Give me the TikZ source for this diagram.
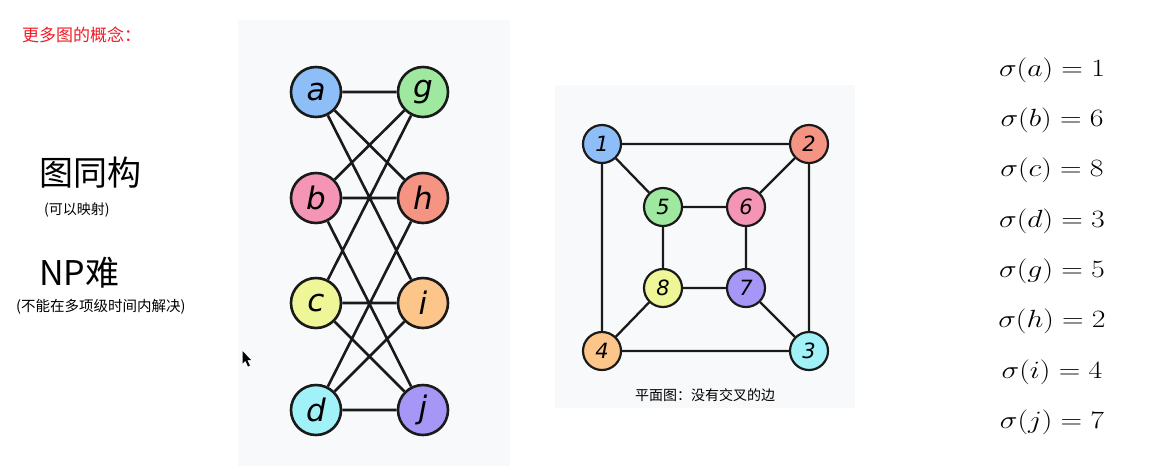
\documentclass[tikz,border=0pt]{standalone}
\usepackage{fontspec}
\newfontfamily\cjk{Noto Sans CJK SC}
\newfontfamily\lblfont{DejaVu Sans}
\usepackage{graphicx}
\definecolor{panel}{HTML}{F8F9FB}
\definecolor{edgec}{HTML}{1A1A1A}
\definecolor{cBlue}{HTML}{8EBEF8}
\definecolor{cGreen}{HTML}{9EE8A0}
\definecolor{cPink}{HTML}{F595B5}
\definecolor{cSalmon}{HTML}{F69484}
\definecolor{cYellow}{HTML}{EEF697}
\definecolor{cOrange}{HTML}{FCC68A}
\definecolor{cCyan}{HTML}{A0F1F8}
\definecolor{cPurple}{HTML}{A697F7}
\definecolor{titlered}{HTML}{EE1C25}
\begin{document}
\begin{tikzpicture}[x=1pt,y=-1pt,
  bignode/.style={circle,draw=edgec,line width=2.6pt,minimum size=50pt,inner sep=0pt,
    font=\lblfont\itshape\fontsize{31}{31}\selectfont},
  smallnode/.style={circle,draw=edgec,line width=2.2pt,minimum size=38pt,inner sep=0pt,
    font=\lblfont\itshape\fontsize{21}{21}\selectfont},
  bigedge/.style={draw=edgec,line width=2.6pt},
  smalledge/.style={draw=edgec,line width=2.3pt},
  lefttext/.style={anchor=west,inner sep=0pt,text=black},
  eqn/.style={anchor=base,inner sep=0pt}]
\useasboundingbox (0,0) rectangle (1166,467);
\fill[white] (0,0) rectangle (1166,467);
% panels
\fill[panel] (238,20) rectangle (510,466);
\fill[panel] (555,85) rectangle (855,408);

% left texts
\node[lefttext,text=titlered,font=\cjk\fontsize{17}{17}\selectfont] (title) at (22,35) {更多图的概念：};
\node[lefttext,font=\cjk\fontsize{34}{34}\selectfont] (iso) at (39,173) {图同构};
\node[lefttext,font=\cjk\fontsize{14}{14}\selectfont] (isosub) at (44,210) {(可以映射)};
\node[lefttext,font=\cjk\fontsize{34}{34}\selectfont] (np) at (39,273) {NP难};
\node[lefttext,font=\cjk\fontsize{14.5}{14.5}\selectfont] (npsub) at (16,307) {(不能在多项级时间内解决)};

% cursor
\fill[black] (242.5,351) -- (242.5,363.5) -- (245.5,360.8) -- (248,366.5) -- (249.8,365.6) -- (247.3,360) -- (251,360) -- cycle;

% graph 1
\node[bignode,fill=cBlue]   (a) at (316,92)  {a};
\node[bignode,fill=cGreen]  (g) at (423,92)  {g};
\node[bignode,fill=cPink]   (b) at (316,198) {b};
\node[bignode,fill=cSalmon] (h) at (423,198) {h};
\node[bignode,fill=cYellow] (c) at (316,303) {c};
\node[bignode,fill=cOrange] (i) at (423,303) {i};
\node[bignode,fill=cCyan]   (d) at (316,410) {d};
\node[bignode,fill=cPurple] (j) at (423,410) {j};
\path[bigedge] (a) -- (g) (a) -- (h) (a) -- (i)
               (b) -- (g) (b) -- (h) (b) -- (j)
               (c) -- (g) (c) -- (i) (c) -- (j)
               (d) -- (h) (d) -- (i) (d) -- (j);

% graph 2
\node[smallnode,fill=cBlue]   (n1) at (602,144) {1};
\node[smallnode,fill=cSalmon] (n2) at (809,144) {2};
\node[smallnode,fill=cGreen]  (n5) at (663,207) {5};
\node[smallnode,fill=cPink]   (n6) at (746,207) {6};
\node[smallnode,fill=cYellow] (n8) at (663,288) {8};
\node[smallnode,fill=cPurple] (n7) at (746,288) {7};
\node[smallnode,fill=cOrange] (n4) at (602,351) {4};
\node[smallnode,fill=cCyan]   (n3) at (809,351) {3};
\path[smalledge] (n1) -- (n2) (n1) -- (n4) (n1) -- (n5)
                 (n2) -- (n6) (n2) -- (n3)
                 (n5) -- (n6) (n5) -- (n8) (n6) -- (n7)
                 (n8) -- (n7) (n8) -- (n4) (n7) -- (n3) (n4) -- (n3);
\node[inner sep=0pt,font=\cjk\fontsize{14}{14}\selectfont] (cap) at (705,395) {平面图：没有交叉的边};

% sigma column
\foreach \v/\n/\y in {a/1/76, b/6/126, c/8/176, d/3/227, g/5/277, h/2/327, i/4/378, j/7/428}{
  \node[eqn,font=\fontsize{25.5}{25.5}\selectfont] (s\v) at (1052,\y) {\scalebox{1.2}[1]{$\sigma(\v)=\n$}};
}
\end{tikzpicture}
\end{document}
